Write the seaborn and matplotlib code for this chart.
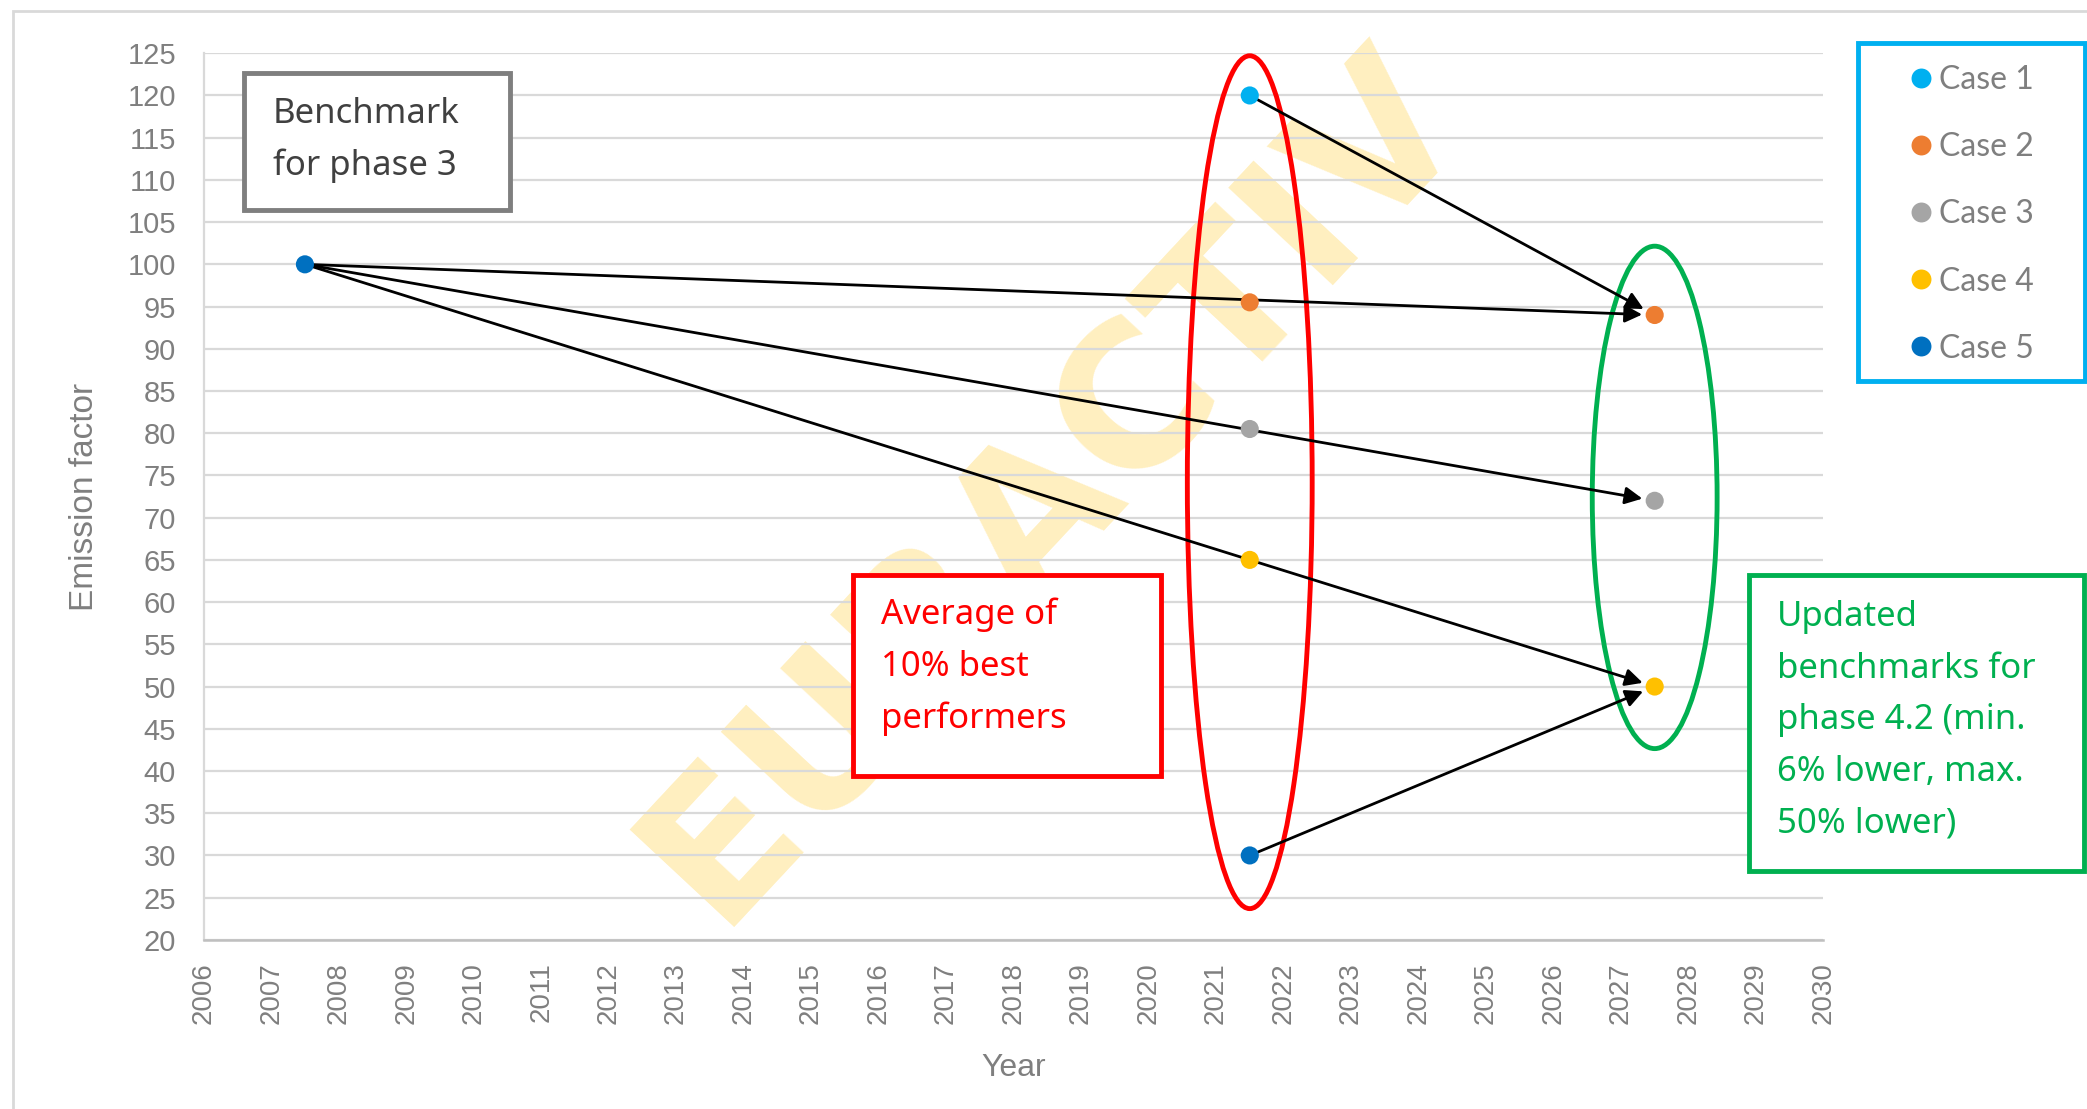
import matplotlib
matplotlib.use("Agg")
import matplotlib.pyplot as plt
from matplotlib.patches import Ellipse, Rectangle
import pandas as pd
import seaborn as sns

# series data
cases = ["Case 1", "Case 2", "Case 3", "Case 4", "Case 5"]
case_colors = ["#00B0F0", "#ED7D31", "#A5A5A5", "#FFC000", "#0070C0"]

phase3_year = 2007.5
phase3_value = 100
phase3_case = "Case 5"

best_year = 2021.5
best_values = [120, 95.5, 80.5, 65, 30]

updated_year = 2027.5
updated_cases = ["Case 2", "Case 3", "Case 4"]
updated_values = [94, 72, 50]

year_ticks = list(range(2006, 2031))
value_ticks = list(range(20, 130, 5))

# table for seaborn
rows = [(phase3_year, phase3_value, phase3_case)]
rows += [(best_year, v, c) for c, v in zip(cases, best_values)]
rows += [(updated_year, v, c) for c, v in zip(updated_cases, updated_values)]
df = pd.DataFrame(rows, columns=["year", "value", "case"])

sns.set_style("white")
plt.rcParams["font.family"] = ["Liberation Sans", "DejaVu Sans"]

fig = plt.figure(figsize=(20.87, 11.09), dpi=100)
ax = fig.add_axes([0.0976, 0.1525, 0.7761, 0.7995])
ax.patch.set_alpha(0)

sns.scatterplot(data=df, x="year", y="value", hue="case", hue_order=cases,
                palette=case_colors, s=170, edgecolor="none", ax=ax, zorder=5)

# arrows between the cases
best = dict(zip(cases, best_values))
upd = dict(zip(updated_cases, updated_values))
arrows = [((phase3_year, phase3_value), (updated_year, upd["Case 2"])),
          ((phase3_year, phase3_value), (updated_year, upd["Case 3"])),
          ((phase3_year, phase3_value), (updated_year, upd["Case 4"])),
          ((best_year, best["Case 1"]), (updated_year, upd["Case 2"])),
          ((best_year, best["Case 5"]), (updated_year, upd["Case 4"]))]
for start, end in arrows:
    ax.annotate("", xy=end, xytext=start,
                arrowprops=dict(arrowstyle="-|>", color="black", lw=2,
                                mutation_scale=26, shrinkA=0, shrinkB=9),
                zorder=4)

# highlight ellipses
ax.add_patch(Ellipse((best_year, 74.2), 1.85, 101, fill=False,
                     edgecolor="#FF0000", lw=3.5, clip_on=False, zorder=3))
ax.add_patch(Ellipse((updated_year, 72.4), 1.85, 59.5, fill=False,
                     edgecolor="#00B050", lw=3.5, clip_on=False, zorder=3))

ax.set_xlim(2006, 2030)
ax.set_ylim(20, 125)
ax.set_xticks(year_ticks)
ax.set_xticklabels([str(y) for y in year_ticks], rotation=90)
ax.set_yticks(value_ticks)
ax.tick_params(axis="both", length=0, colors="#7F7F7F")
ax.tick_params(axis="x", labelsize=20, pad=16)
ax.tick_params(axis="y", labelsize=21, pad=20)

ax.yaxis.grid(True, color="#D9D9D9", lw=1.6)
ax.xaxis.grid(False)
ax.set_axisbelow(True)
for side in ["top", "right"]:
    ax.spines[side].set_visible(False)
ax.spines["left"].set_color("#D9D9D9")
ax.spines["left"].set_linewidth(1.6)
ax.spines["bottom"].set_color("#BFBFBF")
ax.spines["bottom"].set_linewidth(1.8)

ax.set_xlabel("Year", fontsize=23, color="#7F7F7F")
ax.set_ylabel("Emission factor", fontsize=24, color="#7F7F7F")
ax.xaxis.set_label_coords(0.5, -0.128)
ax.yaxis.set_label_coords(-0.064, 0.5)

# legend in its own blue frame
handles, labels = ax.get_legend_handles_labels()
ax.get_legend().remove()
fig.legend(handles, labels, loc="upper left", bbox_to_anchor=(0.899, 0.967),
           frameon=False, labelcolor="#7F7F7F", handletextpad=0.05,
           handlelength=1.0, labelspacing=1.16, markerscale=1.1,
           prop={"family": "Lato", "size": 23})
fig.add_artist(Rectangle((0.8903, 0.6567), 0.1087, 0.3049,
                         transform=fig.transFigure, fill=False,
                         edgecolor="#00B0F0", lw=3.5, zorder=6))

# outer chart frame
fig.add_artist(Rectangle((0.0064, -0.05), 1.2, 1.04,
                         transform=fig.transFigure, fill=False,
                         edgecolor="#D9D9D9", lw=2, zorder=1))

# annotation boxes
boxes = [((0.1167, 0.8103, 0.1276, 0.1237), "#7F7F7F", "#404040",
          (0.1307, 0.874), "Benchmark\nfor phase 3"),
         ((0.4088, 0.3001, 0.1473, 0.1813), "#FF0000", "#FF0000",
          (0.4222, 0.3986), "Average of\n10% best\nperformers"),
         ((0.8380, 0.2149, 0.1607, 0.2665), "#00B050", "#00B050",
          (0.8514, 0.3505),
          "Updated\nbenchmarks for\nphase 4.2 (min.\n6% lower, max.\n50% lower)")]
for (x0, y0, w, h), edge, tcol, (tx, ty), txt in boxes:
    fig.add_artist(Rectangle((x0, y0), w, h, transform=fig.transFigure,
                             facecolor="white", edgecolor=edge, lw=3.5,
                             zorder=7))
    fig.text(tx, ty, txt, color=tcol, fontsize=25, family="Noto Sans",
             ha="left", va="center", linespacing=1.67, zorder=8)

# watermark, behind the marks and boxes
fig.text(0.505, 0.562, "EURACTIV", fontsize=142, fontweight="bold",
         color="#FFC000", alpha=0.25, rotation=47, ha="center", va="center",
         family="DejaVu Sans", zorder=-1)

fig.savefig("out.png", dpi=100)
